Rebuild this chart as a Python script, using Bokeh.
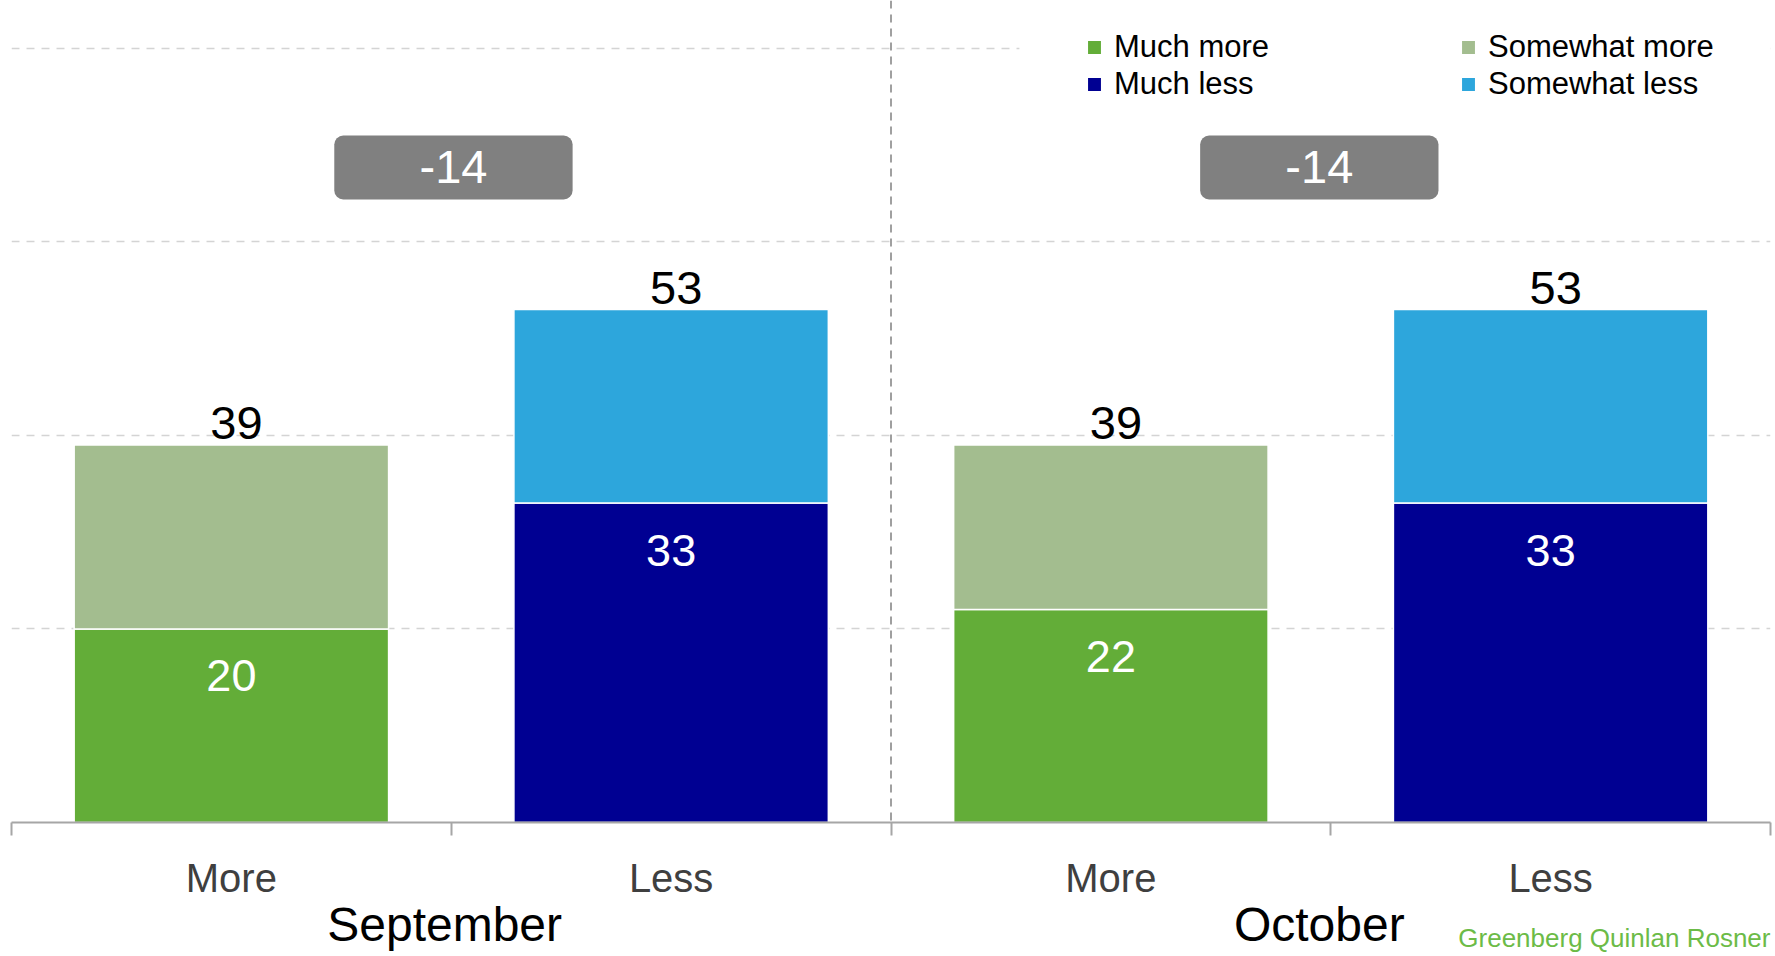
from bokeh.plotting import figure
from bokeh.models import (ColumnDataSource, Range1d, LinearAxis, FixedTicker, Span,
                          BoxAnnotation, Label, Legend, LegendItem)
from bokeh.embed import file_html
from bokeh.resources import INLINE
from bokeh.core.properties import value

# ---------------- data ----------------
months = ["September", "October"]
directions = ["More", "Less"]
much_more = [20, 22]
somewhat_more = [19, 17]
much_less = [33, 33]
somewhat_less = [20, 20]
legend_labels = ["Much more", "Somewhat more", "Much less", "Somewhat less"]
source_note = "Greenberg Quinlan Rosner"
grid_values = [20, 40, 60, 80]

# ---------------- style ----------------
FONT = "Liberation Sans"
C_MUCH_MORE = "#63ad38"
C_SOME_MORE = "#a3bd8f"
C_MUCH_LESS = "#000092"
C_SOME_LESS = "#2da6dc"
BAR_W = 0.715
MONTH_NUDGE = [-0.015, -0.026]
BADGE_NUDGE = [0.005, -0.026]
NOTE_X = 3.645

n = len(months)
more_x = [2 * i + 0.5 for i in range(n)]
less_x = [2 * i + 1.5 for i in range(n)]
group_x = [2 * i + 1.0 for i in range(n)]
more_tot = [a + b for a, b in zip(much_more, somewhat_more)]
less_tot = [a + b for a, b in zip(much_less, somewhat_less)]
diff = [m - l for m, l in zip(more_tot, less_tot)]

more_src = ColumnDataSource(dict(x=more_x, a=much_more, b=somewhat_more,
                                 inner=[str(v) for v in much_more],
                                 total=more_tot, total_txt=[str(v) for v in more_tot]))
less_src = ColumnDataSource(dict(x=less_x, a=much_less, b=somewhat_less,
                                 inner=[str(v) for v in much_less],
                                 total=less_tot, total_txt=[str(v) for v in less_tot]))

p = figure(width=1775, height=956, x_range=Range1d(0, 2 * n), y_range=Range1d(0, 84.93),
           output_backend="svg", toolbar_location=None,
           x_axis_location=None, y_axis_location=None,
           min_border_left=11, min_border_right=5, min_border_top=0, min_border_bottom=134,
           outline_line_color=None, background_fill_color="white")

p.xgrid.visible = False
p.ygrid.ticker = FixedTicker(ticks=grid_values)
p.ygrid.grid_line_color = "#d4d4d4"
p.ygrid.grid_line_dash = "8 7"
p.ygrid.grid_line_width = 1.5

r_more = p.vbar_stack(["a", "b"], x="x", width=BAR_W, source=more_src,
                      fill_color=[C_MUCH_MORE, C_SOME_MORE], line_color="white", line_width=1.5)
r_less = p.vbar_stack(["a", "b"], x="x", width=BAR_W, source=less_src,
                      fill_color=[C_MUCH_LESS, C_SOME_LESS], line_color="white", line_width=1.5)

for src in (more_src, less_src):
    p.text(x="x", y="a", text="inner", source=src, text_color="white",
           text_font=value(FONT), text_font_size="45px", text_align="center",
           text_baseline="middle", y_offset=47)
    p.text(x="x", y="total", text="total_txt", source=src, text_color="black",
           text_font=value(FONT), text_font_size="47px", text_align="center",
           text_baseline="middle", y_offset=-22, x_offset=5)

# group separators
for i in range(1, n):
    p.add_layout(Span(location=2 * i, dimension="height", line_color="#808080",
                      line_dash="8 6", line_width=1.5))

# white area behind the legend
p.add_layout(BoxAnnotation(left=2.292, right=None, bottom=76, top=None,
                           fill_color="white", fill_alpha=1, line_color=None))

# difference badges
for gx, d, nud in zip(group_x, diff, BADGE_NUDGE):
    cx = gx + nud
    p.add_layout(BoxAnnotation(left=cx - 0.271, right=cx + 0.271, bottom=64.37, top=70.98,
                               fill_color="#808080", fill_alpha=1, line_color=None,
                               border_radius=9))
    p.add_layout(Label(x=cx, y=67.7, text=str(d), text_color="white", text_font=FONT,
                       text_font_size="47px", text_align="center", text_baseline="middle"))

# axis 1: category labels + boundary ticks
ax1 = LinearAxis(ticker=FixedTicker(ticks=sorted(more_x + less_x),
                                    minor_ticks=list(range(0, 2 * n + 1))),
                 major_label_overrides={x: d for i in range(n)
                                        for x, d in zip((more_x[i], less_x[i]), directions)})
ax1.axis_line_color = "#a6a6a6"
ax1.axis_line_width = 2
ax1.major_tick_in = 0
ax1.major_tick_out = 0
ax1.minor_tick_in = 0
ax1.minor_tick_out = 13
ax1.minor_tick_line_color = "#a6a6a6"
ax1.minor_tick_line_width = 2
ax1.major_label_text_font = FONT
ax1.major_label_text_font_size = "40px"
ax1.major_label_text_color = "#3f3f3f"
ax1.major_label_standoff = 20
p.add_layout(ax1, "below")

# axis 2: source note (bottom right)
ax_note = LinearAxis(ticker=FixedTicker(ticks=[NOTE_X], minor_ticks=[]),
                     major_label_overrides={NOTE_X: source_note})
ax_note.axis_line_color = None
ax_note.major_tick_line_color = None
ax_note.minor_tick_line_color = None
ax_note.major_tick_in = 0
ax_note.major_tick_out = 0
ax_note.major_label_text_font = FONT
ax_note.major_label_text_font_size = "26px"
ax_note.major_label_text_color = "#6cbb47"
ax_note.major_label_standoff = 20
p.add_layout(ax_note, "below")

# axis 3: month group labels
month_ticks = [gx + nud for gx, nud in zip(group_x, MONTH_NUDGE)]
ax2 = LinearAxis(ticker=FixedTicker(ticks=month_ticks, minor_ticks=[]),
                 major_label_overrides={mx: m for mx, m in zip(month_ticks, months)})
ax2.axis_line_color = None
ax2.major_tick_line_color = None
ax2.minor_tick_line_color = None
ax2.major_tick_in = 0
ax2.major_tick_out = 0
ax2.major_label_text_font = FONT
ax2.major_label_text_font_size = "48px"
ax2.major_label_text_color = "black"
ax2.major_label_standoff = -58
p.add_layout(ax2, "below")

# legend
renderers = [r_more[0], r_more[1], r_less[0], r_less[1]]
items = [LegendItem(label=lbl, renderers=[r]) for lbl, r in zip(legend_labels, renderers)]
legend = Legend(items=items, location=(1074, 720), orientation="horizontal", ncols=2,
                label_text_font=FONT, label_text_font_size="31px", label_text_color="black",
                glyph_width=18, glyph_height=18, label_standoff=11, label_width=344,
                label_height=20, spacing=1, padding=0, margin=0,
                border_line_color=None, background_fill_alpha=0)
p.add_layout(legend)

open("out.html", "w").write(file_html(p, INLINE))
